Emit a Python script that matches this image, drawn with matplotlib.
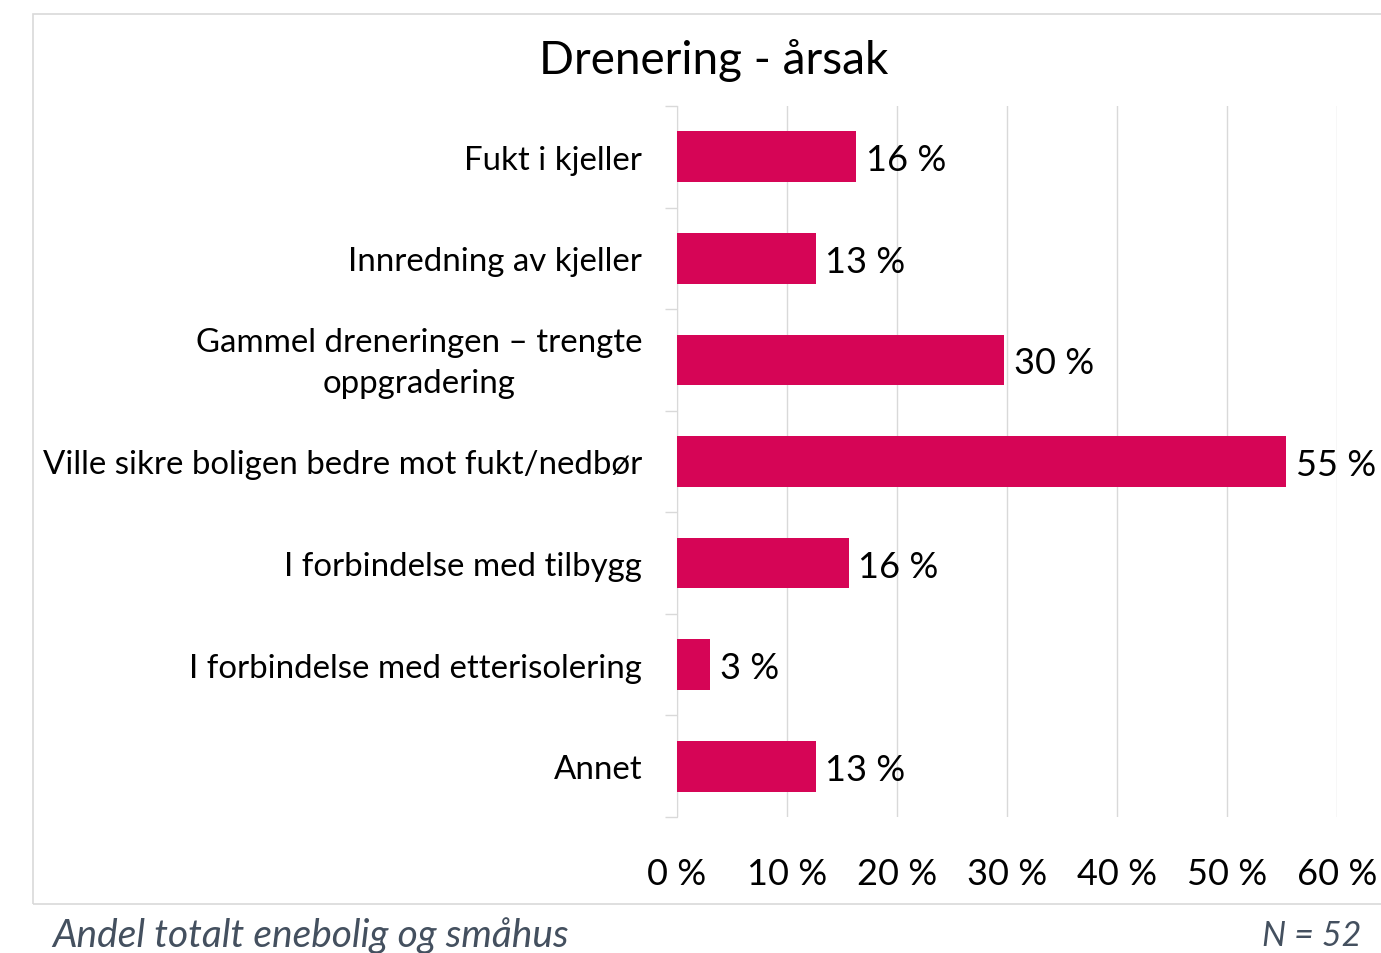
import matplotlib.pyplot as plt
import numpy as np
from matplotlib.patches import Rectangle
from matplotlib.transforms import ScaledTranslation

plt.rcParams['font.family'] = ['Lato', 'DejaVu Sans']

# data
kategorier = ['Fukt i kjeller',
              'Innredning av kjeller',
              'Gammel dreneringen \u2013 trengte\noppgradering',
              'Ville sikre boligen bedre mot fukt/nedbør',
              'I forbindelse med tilbygg',
              'I forbindelse med etterisolering',
              'Annet']
andel = [16.3, 12.6, 29.7, 55.4, 15.6, 3.0, 12.6]
xticks = [0, 10, 20, 30, 40, 50, 60]

farge = '#D60556'
grid = '#D9D9D9'

fig = plt.figure(figsize=(13.81, 9.54), dpi=100)
fig.patches.append(Rectangle((0.0239, 0.0514), 1.2, 0.9329, transform=fig.transFigure,
                             fill=False, edgecolor=grid, lw=1.2))

ax = fig.add_axes([0.4902, 0.1426, 0.4779, 0.7452])
y = np.arange(len(kategorier))
ax.barh(y, andel, height=0.5, color=farge, zorder=3)
for yi, v in zip(y, andel):
    ax.text(v + 0.9, yi + 0.03, '%d %%' % round(v), va='center', ha='left', fontsize=26, color='black')

ax.set_xlim(0, 60)
ax.set_ylim(len(kategorier) - 0.5, -0.5)
ax.set_xticks(xticks)
ax.set_xticklabels(['%d %%' % t for t in xticks], fontsize=26)
ax.tick_params(axis='x', length=0, pad=29)
ax.grid(axis='x', color=grid, lw=1, zorder=0)

ax.set_yticks(y)
ax.set_yticklabels(kategorier, fontsize=23.8, multialignment='center', linespacing=1.45)
ax.tick_params(axis='y', length=0, pad=25)
ax.set_yticks(np.arange(-0.5, len(kategorier)), minor=True)
ax.tick_params(axis='y', which='minor', length=9, color=grid, width=1)

# the two-line label sits a bit higher in the original
lab = ax.get_yticklabels()[2]
lab.set_transform(lab.get_transform() + ScaledTranslation(0, 0.06, fig.dpi_scale_trans))

for s in ['top', 'right', 'bottom']:
    ax.spines[s].set_visible(False)
ax.spines['left'].set_color(grid)

fig.text(0.517, 0.937, 'Drenering - årsak', ha='center', va='center', fontsize=33)
fig.text(0.038, 0.019, 'Andel totalt enebolig og småhus', ha='left', va='center',
         fontsize=28, style='italic', color='#44505F')
fig.text(0.986, 0.019, 'N = 52', ha='right', va='center',
         fontsize=24.5, style='italic', color='#44505F')

fig.savefig('out.png', dpi=100)
